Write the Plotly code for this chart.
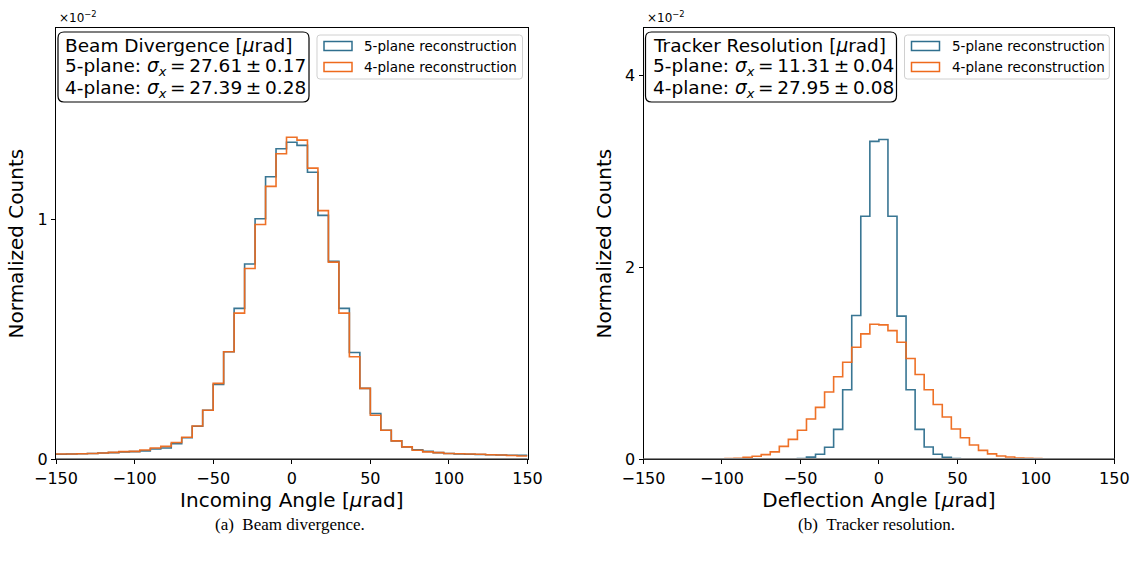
import numpy as np
import plotly.graph_objects as go

W, H = 1137, 566

# ---------------- data ----------------
X_RANGE = [-150, 150]

# (a) Beam divergence: 45 bins over [-150, 150], normalized counts (x10^-2)
DIV_NBINS = 45
div_5plane = [0.021, 0.022, 0.023, 0.024, 0.026, 0.028, 0.031, 0.032, 0.035, 0.043,
              0.047, 0.065, 0.090, 0.138, 0.205, 0.312, 0.449, 0.630, 0.815, 1.004,
              1.179, 1.296, 1.323, 1.310, 1.198, 1.018, 0.826, 0.630, 0.446, 0.296,
              0.191, 0.121, 0.077, 0.052, 0.040, 0.033, 0.028, 0.024, 0.022, 0.021,
              0.020, 0.019, 0.018, 0.017, 0.017]
div_4plane = [0.022, 0.022, 0.023, 0.024, 0.026, 0.029, 0.032, 0.033, 0.039, 0.047,
              0.054, 0.070, 0.092, 0.139, 0.205, 0.317, 0.449, 0.610, 0.796, 0.980,
              1.139, 1.275, 1.344, 1.332, 1.215, 1.038, 0.823, 0.610, 0.428, 0.296,
              0.184, 0.121, 0.077, 0.052, 0.038, 0.031, 0.028, 0.024, 0.023, 0.022,
              0.021, 0.019, 0.018, 0.016, 0.014]

# (b) Tracker resolution: 52 bins over [-150, 150], normalized counts (x10^-2)
RES_NBINS = 52
res_5plane = [0.001] * 14 + [0.002, 0.003, 0.004,
              0.008, 0.023, 0.052, 0.125, 0.312, 0.724, 1.497, 2.53, 3.31, 3.33,
              2.53, 1.49, 0.724, 0.312, 0.128, 0.052, 0.021, 0.008, 0.004, 0.003,
              0.002] + [0.001] * 14
res_4plane = [0.002, 0.002, 0.003, 0.003, 0.003, 0.004, 0.004, 0.005, 0.006, 0.008,
              0.010, 0.021, 0.031, 0.049, 0.077, 0.135, 0.207, 0.302, 0.419, 0.541,
              0.700, 0.859, 1.011, 1.167, 1.306, 1.406, 1.399, 1.340, 1.218, 1.050,
              0.883, 0.724, 0.571, 0.440, 0.315, 0.225, 0.149, 0.093, 0.056, 0.035,
              0.024, 0.014, 0.010, 0.008, 0.006, 0.005, 0.004, 0.004, 0.003, 0.003,
              0.002, 0.002]

X_TICKS = [-150, -100, -50, 0, 50, 100, 150]
Y_TICKS_DIV = [0, 1]
Y_TICKS_RES = [0, 2, 4]
Y_RANGE_DIV = [0, 1.8]
Y_RANGE_RES = [0, 4.49]

TS = "\u2009"  # thin space as in math text
SERIES_NAMES = ["5-plane reconstruction", "4-plane reconstruction"]
BOX_DIV = ["Beam Divergence [<i>μ</i>rad]",
           f"5-plane: <i>σ<sub>x</sub></i>{TS}={TS}27.61{TS}±{TS}0.17",
           f"4-plane: <i>σ<sub>x</sub></i>{TS}={TS}27.39{TS}±{TS}0.28"]
BOX_RES = ["Tracker Resolution [<i>μ</i>rad]",
           f"5-plane: <i>σ<sub>x</sub></i>{TS}={TS}11.31{TS}±{TS}0.04",
           f"4-plane: <i>σ<sub>x</sub></i>{TS}={TS}27.95{TS}±{TS}0.08"]
XTITLES = ["Incoming Angle [<i>μ</i>rad]", "Deflection Angle [<i>μ</i>rad]"]
CAPTIONS = ["(a)\u00a0\u00a0Beam divergence.", "(b)\u00a0\u00a0Tracker resolution."]

BLUE = "#2f6f8e"
ORANGE = "#ee6a1c"
FONT = "DejaVu Sans"


def step_xy(values, nbins):
    edges = np.linspace(X_RANGE[0], X_RANGE[1], nbins + 1)
    y = list(values) + [values[-1]]
    return edges, y


def px(x):
    return x / W


def py(y):
    return 1 - y / H


def rounded_rect(x0, y0, x1, y1, r):
    def P(x, y):
        return f"{px(x):.5f},{py(y):.5f}"
    return (f"M {P(x0 + r, y0)} L {P(x1 - r, y0)} Q {P(x1, y0)} {P(x1, y0 + r)} "
            f"L {P(x1, y1 - r)} Q {P(x1, y1)} {P(x1 - r, y1)} "
            f"L {P(x0 + r, y1)} Q {P(x0, y1)} {P(x0, y1 - r)} "
            f"L {P(x0, y0 + r)} Q {P(x0, y0)} {P(x0 + r, y0)} Z")


fig = go.Figure()

panels = [
    dict(xa="x", ya="y", nb=DIV_NBINS, s5=div_5plane, s4=div_4plane),
    dict(xa="x2", ya="y2", nb=RES_NBINS, s5=res_5plane, s4=res_4plane),
]
for p in panels:
    for vals, col, name in [(p["s5"], BLUE, SERIES_NAMES[0]), (p["s4"], ORANGE, SERIES_NAMES[1])]:
        xe, ye = step_xy(vals, p["nb"])
        fig.add_trace(go.Scatter(x=xe, y=ye, mode="lines", line=dict(color=col, width=1.6, shape="hv"),
                                 name=name, showlegend=False, xaxis=p["xa"], yaxis=p["ya"],
                                 opacity=0.95))

# axes pixel geometry
AX = [(56.0, 527.5), (643.5, 1114.3)]
AY = (28.0, 459.3)

common_x = dict(range=X_RANGE, tickvals=X_TICKS, ticks="outside", ticklen=4, tickwidth=1,
                tickcolor="black", showline=True, linecolor="black", linewidth=1, mirror=True,
                showgrid=False, zeroline=False, tickfont=dict(family=FONT, size=16, color="black"),
                automargin=False)
common_y = dict(ticks="outside", ticklen=4, tickwidth=1, tickcolor="black", showline=True,
                linecolor="black", linewidth=1, mirror=True, showgrid=False, zeroline=False,
                tickfont=dict(family=FONT, size=16, color="black"), automargin=False)

fig.update_layout(
    width=W, height=H, margin=dict(l=0, r=0, t=0, b=0),
    paper_bgcolor="white", plot_bgcolor="white", showlegend=False,
    xaxis=dict(common_x, domain=[px(AX[0][0]), px(AX[0][1])], anchor="y",
               title=dict(text=XTITLES[0], font=dict(family=FONT, size=20, color="black"), standoff=6)),
    xaxis2=dict(common_x, domain=[px(AX[1][0]), px(AX[1][1])], anchor="y2",
                title=dict(text=XTITLES[1], font=dict(family=FONT, size=20, color="black"), standoff=6)),
    yaxis=dict(common_y, domain=[py(AY[1]), py(AY[0])], anchor="x", range=Y_RANGE_DIV,
               tickvals=Y_TICKS_DIV,
               title=dict(text="Normalized Counts", font=dict(family=FONT, size=20, color="black"), standoff=8)),
    yaxis2=dict(common_y, domain=[py(AY[1]), py(AY[0])], anchor="x2", range=Y_RANGE_RES,
                tickvals=Y_TICKS_RES,
                title=dict(text="Normalized Counts", font=dict(family=FONT, size=20, color="black"), standoff=8)),
)

shapes = []
annotations = []
for i, (xa, ya, box_lines) in enumerate([("x", "y", BOX_DIV), ("x2", "y2", BOX_RES)]):
    x0, x1 = AX[i]
    # gray baseline at y=0
    shapes.append(dict(type="line", xref=f"{xa} domain", yref=ya, x0=0, x1=1, y0=0, y1=0,
                       line=dict(color="#8a8a8a", width=2.5), layer="above"))
    # exponent label
    annotations.append(dict(text="×10<sup>−2</sup>", xref="paper", yref="paper", x=px(x0 + 1), y=py(17),
                            xanchor="left", yanchor="middle", showarrow=False,
                            font=dict(family=FONT, size=12, color="black")))
    # text box
    bx0 = x0 + 2
    bx1 = bx0 + 251
    shapes.append(dict(type="path", xref="paper", yref="paper",
                       path=rounded_rect(bx0, 32, bx1, 102, 6),
                       line=dict(color="black", width=1.2), fillcolor="white", layer="above"))
    for j, t in enumerate(box_lines):
        annotations.append(dict(text=t, xref="paper", yref="paper", x=px(bx0 + 5), y=py(45 + 22 * j),
                                xanchor="left", yanchor="middle", showarrow=False,
                                font=dict(family=FONT, size=18.5, color="black")))
    # legend
    lx0 = bx1 + 8
    lx1 = x1 - 5
    shapes.append(dict(type="path", xref="paper", yref="paper",
                       path=rounded_rect(lx0, 35, lx1, 79, 3),
                       line=dict(color="#d0d0d0", width=1), fillcolor="rgba(255,255,255,0.85)",
                       layer="above"))
    for j, (name, col) in enumerate(zip(SERIES_NAMES, [BLUE, ORANGE])):
        yc = 46 + 21 * j
        shapes.append(dict(type="rect", xref="paper", yref="paper",
                           x0=px(lx0 + 7), x1=px(lx0 + 35), y0=py(yc - 4.5), y1=py(yc + 4.5),
                           line=dict(color=col, width=1.5), fillcolor="white", layer="above"))
        annotations.append(dict(text=name, xref="paper", yref="paper", x=px(lx0 + 45), y=py(yc),
                                xanchor="left", yanchor="middle", showarrow=False,
                                font=dict(family=FONT, size=13.5, color="black")))
    # caption
    annotations.append(dict(text=CAPTIONS[i], xref="paper", yref="paper",
                            x=px((x0 + x1) / 2 - 2), y=py(524), xanchor="center", yanchor="middle",
                            showarrow=False, font=dict(family="Liberation Serif", size=17, color="black")))

fig.update_layout(shapes=shapes, annotations=annotations)
fig.write_html("out.html", config={"displayModeBar": False},
               post_script="document.body.style.margin='0px';document.body.style.overflow='hidden';")
